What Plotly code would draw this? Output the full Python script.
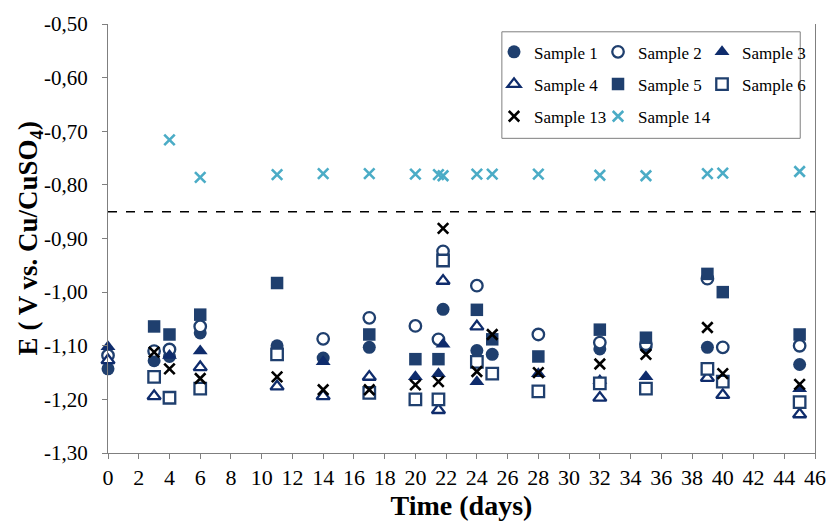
import plotly.graph_objects as go

# ---------------- data ----------------
times = [0, 3, 4, 6, 11, 14, 17, 20, 21.5, 21.8, 24, 25, 28, 32, 35, 39, 40, 45]

s1 = [-1.143, -1.128, -1.120, -1.076, -1.100, -1.123, -1.103, None, None, -1.032,
      -1.109, -1.116, None, -1.106, -1.103, -1.103, None, -1.135]
s2 = [-1.118, -1.110, -1.107, -1.064, None, -1.087, -1.048, -1.063, -1.088, -0.924,
      -0.988, None, -1.079, -1.094, -1.097, -0.975, -1.103, -1.100]
s3 = [-1.102, None, -1.118, -1.110, None, -1.130, None, -1.158, -1.152, -1.097,
      -1.167, None, -1.152, -1.165, -1.158, None, None, -1.180]
s4 = [-1.127, -1.194, None, -1.140, -1.176, -1.194, -1.158, None, -1.220, -0.979,
      -1.064, None, None, -1.197, None, -1.160, -1.192, -1.228]
s5 = [None, -1.064, -1.079, -1.042, -0.983, None, -1.079, -1.125, -1.125, None,
      -1.033, -1.088, -1.120, -1.070, -1.085, -0.966, -1.000, -1.079]
s6 = [None, -1.158, -1.197, -1.180, -1.116, None, -1.188, -1.200, -1.200, -0.941,
      -1.130, -1.152, -1.185, -1.170, -1.180, -1.143, -1.167, -1.205]
s13 = [None, -1.112, -1.143, -1.161, -1.158, -1.182, -1.182, -1.173, -1.167, -0.881,
       -1.148, -1.079, -1.150, -1.134, -1.116, -1.066, -1.152, -1.172]
s14 = [None, None, -0.716, -0.786, -0.781, -0.779, -0.779, -0.780, -0.781, -0.783,
       -0.780, -0.780, -0.780, -0.782, -0.783, -0.779, -0.778, -0.775]

names = ["Sample 1", "Sample 2", "Sample 3", "Sample 4", "Sample 5", "Sample 6",
         "Sample 13", "Sample 14"]
threshold = -0.85

y_tickvals = [-0.5, -0.6, -0.7, -0.8, -0.9, -1.0, -1.1, -1.2, -1.3]
y_ticktext = ["-0,50", "-0,60", "-0,70", "-0,80", "-0,90", "-1,00", "-1,10", "-1,20", "-1,30"]
x_tickvals = list(range(0, 47, 2))

# ---------------- styles ----------------
NAVY = "#1F3F6E"
TRI = "#0F2C6C"
AQUA = "#4BACC6"
FONT = "Liberation Serif"

styles = [
    dict(symbol="circle", size=13, color=NAVY, line=dict(width=0), legend="legend"),
    dict(symbol="circle", size=11.5, color="white", line=dict(width=2.3, color=NAVY), legend="legend"),
    dict(symbol="triangle-up", size=13, color=TRI, line=dict(width=0), legend="legend"),
    dict(symbol="triangle-up", size=11.5, color="white", line=dict(width=2.3, color=TRI), legend="legend2"),
    dict(symbol="square", size=12.5, color=NAVY, line=dict(width=0), legend="legend2"),
    dict(symbol="square", size=11.5, color="white", line=dict(width=2.3, color=NAVY), legend="legend2"),
    dict(symbol="x-thin", size=10.5, color="black", line=dict(width=2.6, color="black"), legend="legend3"),
    dict(symbol="x-thin", size=10.5, color=AQUA, line=dict(width=2.6, color=AQUA), legend="legend3"),
]

series = [s1, s2, s3, s4, s5, s6, s13, s14]

fig = go.Figure()
for name, vals, st in zip(names, series, styles):
    fig.add_trace(go.Scatter(
        x=times, y=vals, mode="markers", name=name, legend=st["legend"],
        marker=dict(symbol=st["symbol"], size=st["size"], color=st["color"], line=st["line"]),
        cliponaxis=False,
    ))

# empty placeholder entry so the third legend row gets the same width as the others
fig.add_trace(go.Scatter(x=[None], y=[None], mode="markers", name=" ", legend="legend3",
                         marker=dict(color="rgba(0,0,0,0)", size=1), hoverinfo="skip"))

fig.add_shape(type="line", xref="paper", x0=0, x1=1, yref="y", y0=threshold, y1=threshold,
              line=dict(color="black", width=1.6, dash="dash"))

# legend box
fig.add_shape(type="rect", xref="paper", yref="paper", x0=0.5571, x1=0.9791, y0=0.7335, y1=0.9818,
              line=dict(color="#7f7f7f", width=1), fillcolor="white", layer="below")

leg_common = dict(orientation="h", xanchor="left", yanchor="middle", bgcolor="rgba(0,0,0,0)",
                  font=dict(family=FONT, size=17, color="black"), entrywidth=59,
                  entrywidthmode="pixels", itemclick=False, itemdoubleclick=False)

# y-axis title as a rotated annotation, placed left of the tick labels
fig.add_annotation(text="<b>E ( V vs. Cu/CuSO<sub>4</sub>)</b>", textangle=-90,
                   xref="paper", yref="paper", x=-0.1105, y=0.5, xanchor="center", yanchor="middle",
                   showarrow=False, font=dict(family=FONT, size=27, color="black"))

fig.update_layout(
    width=838, height=526,
    font=dict(family=FONT, color="black"),
    margin=dict(l=108, r=12, t=18, b=69),
    plot_bgcolor="white", paper_bgcolor="white",
    showlegend=True,
    legend=dict(x=0.546, y=0.934, **leg_common),
    legend2=dict(x=0.546, y=0.859, **leg_common),
    legend3=dict(x=0.546, y=0.784, **leg_common),
    xaxis=dict(range=[0, 46], tickvals=x_tickvals, ticks="outside", ticklen=5, tickcolor="#7f7f7f",
               showline=True, linecolor="#7f7f7f", linewidth=1, showgrid=False, zeroline=False,
               tickfont=dict(family=FONT, size=22, color="black"),
               title=dict(text="<b>Time (days)</b>", font=dict(family=FONT, size=28, color="black"),
                          standoff=4)),
    yaxis=dict(range=[-1.3, -0.5], tickvals=y_tickvals, ticktext=y_ticktext, ticks="outside",
               ticklen=5, tickcolor="#7f7f7f", showline=True, linecolor="#7f7f7f", linewidth=1,
               mirror=True, showgrid=False, zeroline=False, ticklabelstandoff=10,
               tickfont=dict(family=FONT, size=21, color="black")),
)

fig.write_html("out.html")
